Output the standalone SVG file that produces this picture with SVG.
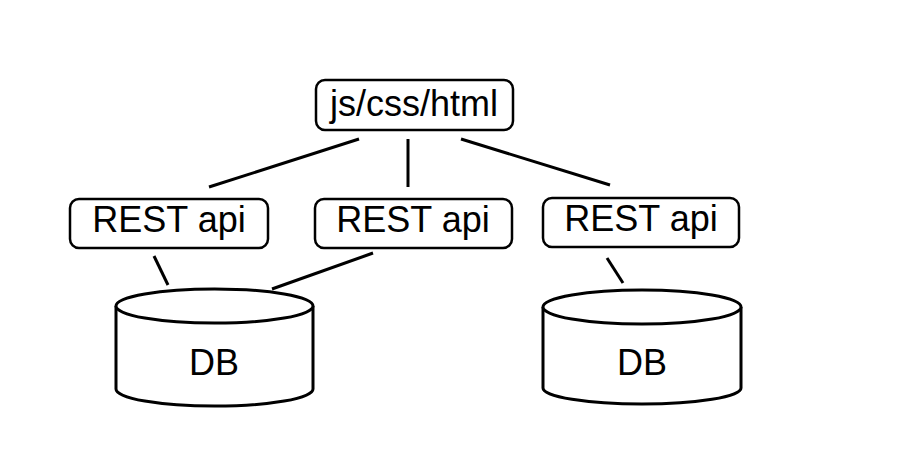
<svg xmlns="http://www.w3.org/2000/svg" width="908" height="450" viewBox="0 0 908 450">
<style>
.box{fill:#fff;stroke:#000;stroke-width:2.5}
.cyl{fill:#fff;stroke:#000;stroke-width:3}
.lbl{font-family:"Liberation Sans",Arial,sans-serif;font-size:36px;fill:#000;text-anchor:middle}
.con line{stroke:#000;stroke-width:3}
</style>
<rect width="908" height="450" fill="#fff"/>
<g class="con" id="connectors">
<line x1="359" y1="139" x2="209" y2="187"/>
<line x1="408" y1="139" x2="408" y2="187"/>
<line x1="461" y1="139" x2="610" y2="185"/>
<line x1="154" y1="256" x2="168" y2="285"/>
<line x1="373" y1="253" x2="272" y2="289"/>
<line x1="607" y1="258" x2="623" y2="283"/>
</g>
<g id="web">
<rect class="box" x="316" y="80" width="197" height="50" rx="9"/>
<text class="lbl" x="414" y="116">js/css/html</text>
</g>
<g id="rest1">
<rect class="box" x="70" y="199" width="198" height="49" rx="9"/>
<text class="lbl" x="169" y="232">REST api</text>
</g>
<g id="rest2">
<rect class="box" x="315" y="199" width="197" height="49" rx="9"/>
<text class="lbl" x="413" y="232">REST api</text>
</g>
<g id="rest3">
<rect class="box" x="543" y="198" width="196" height="49" rx="9"/>
<text class="lbl" x="641" y="231">REST api</text>
</g>
<g id="db1">
<path class="cyl" d="M116,306 L116,389 A98.5,17 0 0 0 313,389 L313,306"/>
<ellipse class="cyl" cx="214.5" cy="306" rx="98.5" ry="17"/>
<text class="lbl" x="214" y="375">DB</text>
</g>
<g id="db2">
<path class="cyl" d="M543,307 L543,388 A99,16 0 0 0 741,388 L741,307"/>
<ellipse class="cyl" cx="642" cy="307" rx="99" ry="17"/>
<text class="lbl" x="642" y="375">DB</text>
</g>
</svg>
